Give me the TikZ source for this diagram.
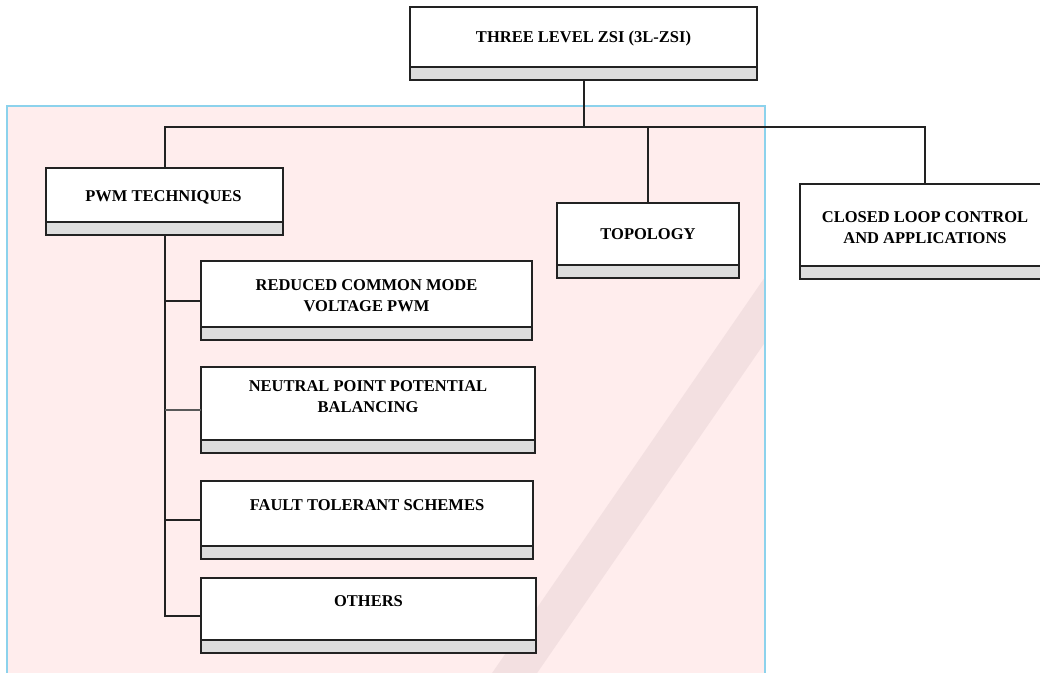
\documentclass[tikz,border=0pt]{standalone}
\usepackage{fontspec}
\setmainfont{Liberation Serif}
\usetikzlibrary{calc}
\definecolor{linec}{HTML}{222222}
\definecolor{barc}{HTML}{DDDDDD}
\definecolor{pinkc}{HTML}{FFEDED}
\definecolor{bandc}{HTML}{F3E0E1}
\definecolor{bluec}{HTML}{8CD2EC}
\tikzset{
  card/.style={rectangle, draw=linec, line width=1.8pt, fill=white, inner sep=0pt, outer sep=0pt, anchor=north west,
    path picture={
      \fill[barc] (path picture bounding box.south west) rectangle ([yshift=13pt]path picture bounding box.south east);
      \draw[linec, line width=1.5pt] ([yshift=13pt]path picture bounding box.south west) -- ([yshift=13pt]path picture bounding box.south east);
    }},
  lbl/.style={inner sep=0pt, outer sep=0pt, anchor=base, align=center, font=\fontsize{16.5}{21}\selectfont\bfseries, text=black},
  conn/.style={draw=linec, line width=2pt},
  thinconn/.style={draw=linec!75, line width=1.1pt}
}
\begin{document}
\begin{tikzpicture}[x=1pt,y=-1pt]
\useasboundingbox (0,0) rectangle (1040,672);
\clip (0,0) rectangle (1040,672);
% background panel
\fill[pinkc] (7,106) rectangle (765,690);
\begin{scope}
  \clip (7,106) rectangle (765,690);
  \fill[bandc] (473.5,700) -- (518.5,700) -- (932,100) -- (887,100) -- cycle;
\end{scope}
\draw[bluec, line width=1.3pt] (7,690) -- (7,106) -- (765,106) -- (765,690);
% cards
\node[card, minimum width=347pt, minimum height=73pt] (top) at (410,7) {};
\node[card, minimum width=237pt, minimum height=67pt] (pwm) at (46,168) {};
\node[card, minimum width=182pt, minimum height=75pt] (topo) at (557,203) {};
\node[card, minimum width=250pt, minimum height=95pt] (cl) at (800,184) {};
\node[card, minimum width=331pt, minimum height=79pt] (red) at (201,261) {};
\node[card, minimum width=334pt, minimum height=86pt] (neu) at (201,367) {};
\node[card, minimum width=332pt, minimum height=78pt] (flt) at (201,481) {};
\node[card, minimum width=335pt, minimum height=75pt] (oth) at (201,578) {};
% labels
\node[lbl] (top-t) at ($(top.north)+(0,35.5)$) {THREE LEVEL ZSI (3L-ZSI)};
\node[lbl] (pwm-t) at ($(pwm.north)+(-1,33)$) {PWM TECHNIQUES};
\node[lbl] (topo-t) at ($(topo.north)+(0,36)$) {TOPOLOGY};
\node[lbl] (cl-t) at ($(cl.north)+(0,59)$) {CLOSED LOOP CONTROL\\AND APPLICATIONS};
\node[lbl] (red-t) at ($(red.north)+(0,50.5)$) {REDUCED COMMON MODE\\VOLTAGE PWM};
\node[lbl] (neu-t) at ($(neu.north)+(0,45)$) {NEUTRAL POINT POTENTIAL\\BALANCING};
\node[lbl] (flt-t) at ($(flt.north)+(0,29)$) {FAULT TOLERANT SCHEMES};
\node[lbl] (oth-t) at ($(oth.north)+(0,28)$) {OTHERS};
% connectors
\coordinate (hub) at ($(top.south)+(0,47)$);
\draw[conn] (top.south) -- (hub) -| (pwm.north);
\draw[conn] (hub) -| (topo.north);
\draw[conn] (hub) -| (cl.north);
\draw[conn] (pwm.south) |- (oth.west);
\draw[conn] (pwm.south |- red.west) -- (red.west);
\draw[thinconn] (pwm.south |- neu.west) -- (neu.west);
\draw[conn] (pwm.south |- flt.west) -- (flt.west);
\end{tikzpicture}
\end{document}
